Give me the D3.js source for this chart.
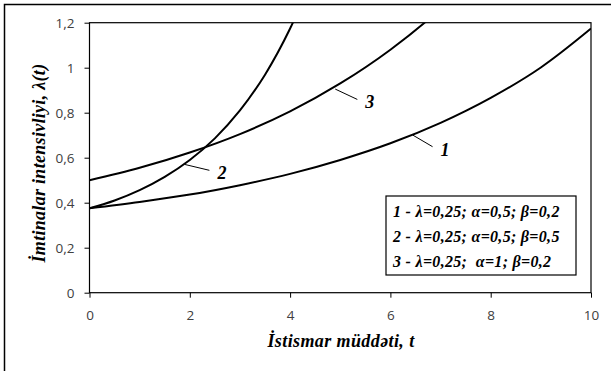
<!DOCTYPE html>
<html>
<head>
<meta charset="utf-8">
<script src="https://cdn.jsdelivr.net/npm/d3@7"></script>
<style>
  body { margin: 0; background: #fff; }
  .tick text { font-family: "Open Sans", sans-serif; font-size: 13.5px; fill: #404040; }
  .ttl { font-family: "Liberation Serif", serif; font-weight: bold; font-style: italic; }
</style>
</head>
<body>
<script>
// values
const t1 = [0, 1, 2, 3, 4, 5, 6, 7, 8, 9, 10];
const lam1 = [0.375, 0.403, 0.436, 0.478, 0.528, 0.590, 0.664, 0.755, 0.866, 1.001, 1.174];
const t2 = [0, 0.5, 1, 1.5, 2, 2.5, 3, 3.5, 4, 4.5];
const lam2 = [0.375, 0.41, 0.456, 0.515, 0.59, 0.686, 0.81, 0.969, 1.174, 1.436];
const t3 = [0, 1, 2, 3, 4, 5, 6, 7, 8];
const lam3 = [0.5, 0.555, 0.623, 0.705, 0.806, 0.930, 1.080, 1.262, 1.49];
const xTicks = [0, 2, 4, 6, 8, 10];
const yTicks = [0, 0.2, 0.4, 0.6, 0.8, 1, 1.2];
const legendLines = [
  "1 - λ=0,25; α=0,5; β=0,2",
  "2 - λ=0,25; α=0,5; β=0,5",
  "3 - λ=0,25;  α=1; β=0,2"
];
// curve labels: [label, t on curve, value on curve, t of text, value of text]
const curveLabels = [
  ["1", 6.45, 0.70, 7.0, 0.64],
  ["2", 1.9, 0.57, 2.55, 0.535],
  ["3", 4.9, 0.905, 5.5, 0.85]
];

const W = 611, H = 371;
const svg = d3.select("body").append("svg")
    .attr("width", W)
    .attr("height", H);

// outer frame (only left/top edges visible)
svg.append("rect")
    .attr("x", 4.5).attr("y", 4.5)
    .attr("width", 700).attr("height", 500)
    .attr("fill", "none").attr("stroke", "#000").attr("stroke-width", 1.5);

const x = d3.scaleLinear().domain([0, 10]).range([89.5, 591]);
const y = d3.scaleLinear().domain([0, 1.2]).range([292.7, 22.7]);

const fmt = d => String(d).replace(".", ",");

svg.append("g")
    .attr("transform", `translate(0,${y(0)})`)
    .call(d3.axisBottom(x).tickValues(xTicks).tickSize(5).tickPadding(13).tickFormat(fmt))
    .call(g => g.select(".domain").remove());

svg.append("g")
    .attr("transform", `translate(${x(0)},0)`)
    .call(d3.axisLeft(y).tickValues(yTicks).tickSize(5).tickPadding(10).tickFormat(fmt))
    .call(g => g.select(".domain").remove());

// plot frame
svg.append("rect")
    .attr("x", x(0)).attr("y", y(1.2))
    .attr("width", x(10) - x(0)).attr("height", y(0) - y(1.2))
    .attr("fill", "none").attr("stroke", "#000").attr("stroke-width", 1.2);

svg.append("clipPath").attr("id", "clip")
  .append("rect")
    .attr("x", x(0)).attr("y", y(1.2))
    .attr("width", x(10) - x(0)).attr("height", y(0) - y(1.2));

const line = d3.line()
    .x(d => x(d[0]))
    .y(d => y(d[1]))
    .curve(d3.curveCatmullRom);

const series = [
  d3.zip(t1, lam1),
  d3.zip(t2, lam2),
  d3.zip(t3, lam3)
];

svg.append("g").attr("clip-path", "url(#clip)")
  .selectAll("path")
  .data(series)
  .enter()
  .append("path")
    .attr("d", line)
    .attr("fill", "none")
    .attr("stroke", "#000")
    .attr("stroke-width", 2);

// curve labels with leader lines
const lab = svg.selectAll(".clab")
    .data(curveLabels)
    .enter().append("g").attr("class", "clab");

lab.append("line")
    .attr("x1", d => x(d[1])).attr("y1", d => y(d[2]))
    .attr("x2", d => x(d[3]) - 8).attr("y2", d => y(d[4]) - 2)
    .attr("stroke", "#000").attr("stroke-width", 1);

lab.append("text")
    .attr("class", "ttl")
    .attr("x", d => x(d[3]))
    .attr("y", d => y(d[4]) + 7)
    .attr("font-size", 18)
    .text(d => d[0]);

// legend box
const lg = svg.append("g").attr("transform", "translate(386,196)");
lg.append("rect")
    .attr("width", 190).attr("height", 79)
    .attr("fill", "#fff").attr("stroke", "#000").attr("stroke-width", 1.2);
lg.selectAll("text")
    .data(legendLines)
    .enter().append("text")
    .attr("class", "ttl")
    .attr("x", 7)
    .attr("y", (d, i) => 21 + i * 25)
    .attr("font-size", 16)
    .attr("letter-spacing", 0.3)
    .attr("xml:space", "preserve")
    .style("white-space", "pre")
    .text(d => d);

// axis titles
svg.append("text")
    .attr("class", "ttl")
    .attr("x", 341).attr("y", 347)
    .attr("text-anchor", "middle")
    .attr("font-size", 18)
    .attr("letter-spacing", 0.4)
    .text("İstismar müddəti, t");

svg.append("text")
    .attr("class", "ttl")
    .attr("transform", "translate(45,163) rotate(-90)")
    .attr("text-anchor", "middle")
    .attr("font-size", 18)
    .attr("letter-spacing", 0.3)
    .text("İmtinalar intensivliyi, λ(t)");
</script>
</body>
</html>
